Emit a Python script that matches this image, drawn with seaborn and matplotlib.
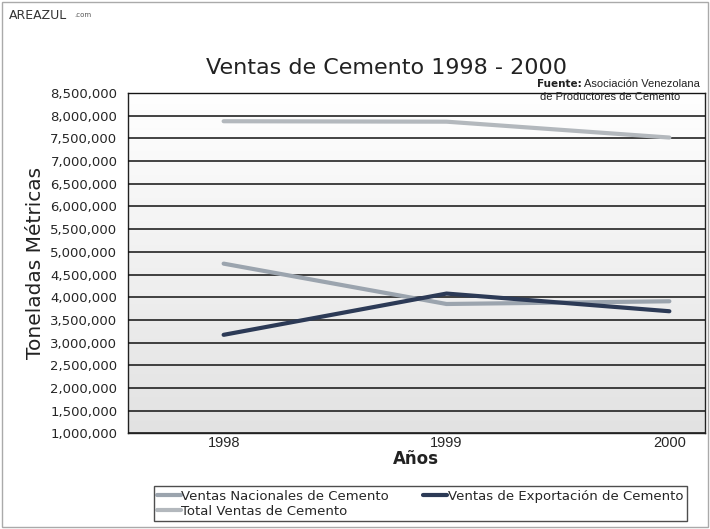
import numpy as np
import pandas as pd
import matplotlib
matplotlib.use("Agg")
import matplotlib.pyplot as plt
import seaborn as sns
from matplotlib.ticker import FuncFormatter, MultipleLocator

anios = [1998, 1999, 2000]
nacionales = [4740000, 3850000, 3910000]
exportacion = [3170000, 4080000, 3690000]
total = [7880000, 7870000, 7520000]

series = ["Ventas Nacionales de Cemento", "Ventas de Exportación de Cemento",
          "Total Ventas de Cemento"]
colores = ["#9ba4ae", "#2c3a56", "#b3b8bd"]

df = pd.DataFrame({
    "Año": anios * 3,
    "Valor": nacionales + exportacion + total,
    "Serie": [series[0]] * 3 + [series[1]] * 3 + [series[2]] * 3,
})

sns.set_style("white")
plt.rcParams["font.family"] = ["DejaVu Sans"]

fig = plt.figure(figsize=(7.1, 5.29), dpi=100)
ax = fig.add_axes([0.180, 0.181, 0.813, 0.643])

x0, x1 = 1997.57, 2000.16

# fondo degradado
grad = np.linspace(0, 1, 256).reshape(-1, 1)
ax.imshow(grad, extent=[x0, x1, 1000000, 8500000], aspect="auto",
          cmap=matplotlib.colors.LinearSegmentedColormap.from_list("g", ["#e2e2e2", "#ffffff"]),
          origin="lower", zorder=0)

sns.lineplot(data=df, x="Año", y="Valor", hue="Serie", palette=colores,
             linewidth=3, ax=ax, legend=False, zorder=3)

ax.set_xlim(x0, x1)
ax.set_ylim(1000000, 8500000)
ax.yaxis.set_major_locator(MultipleLocator(500000))
ax.yaxis.set_major_formatter(FuncFormatter(lambda v, p: f"{int(v):,}"))
ax.set_xticks(anios)
ax.set_xticklabels([str(a) for a in anios], family="Liberation Sans", fontsize=10.5)
ax.set_xticks([1998.5, 1999.5], minor=True)
ax.tick_params(axis="x", which="both", direction="in", length=4, color="#333333", pad=2)
ax.tick_params(axis="y", direction="out", length=4, labelsize=9.5, color="#333333")
ax.grid(axis="y", color="#111111", linewidth=1.1)
ax.set_axisbelow(False)
for s in ax.spines.values():
    s.set_color("#222222")
    s.set_linewidth(1.0)

ax.set_xlabel("Años", fontsize=12, fontweight="bold", labelpad=0, color="#222222")
ax.set_ylabel("Toneladas Métricas", fontsize=14.5, color="#222222", labelpad=4)

fig.text(0.545, 0.872, "Ventas de Cemento 1998 - 2000", ha="center", va="center",
         fontsize=16, color="#222222")
fig.text(0.757, 0.836, "Fuente:", fontsize=7.5, fontweight="bold", color="#222222")
fig.text(0.822, 0.836, "Asociación Venezolana", fontsize=8, family="Liberation Sans",
         color="#222222")
fig.text(0.760, 0.811, "de Productores de Cemento", fontsize=8, family="Liberation Sans",
         color="#222222")
fig.text(0.013, 0.965, "AREAZUL", fontsize=9, color="#333333")
fig.text(0.105, 0.967, ".com", fontsize=5, color="#555555")

orden = [0, 2, 1]
handles = [plt.Line2D([], [], color=colores[i], linewidth=3) for i in orden]
leg = fig.legend(handles, [series[i] for i in orden], loc="lower left",
                 bbox_to_anchor=(0.207, 0.003), ncol=2,
                 fontsize=9.5, frameon=True, fancybox=False, edgecolor="#222222",
                 handlelength=1.8, handletextpad=0.05, columnspacing=2.6,
                 borderpad=0.25, labelspacing=0.15)
leg.get_frame().set_linewidth(1.0)

fig.patches.append(matplotlib.patches.Rectangle((0.003, 0.003), 0.994, 0.994,
                                                transform=fig.transFigure, fill=False,
                                                edgecolor="#aaaaaa", linewidth=1))

fig.savefig("out.png", dpi=100)
